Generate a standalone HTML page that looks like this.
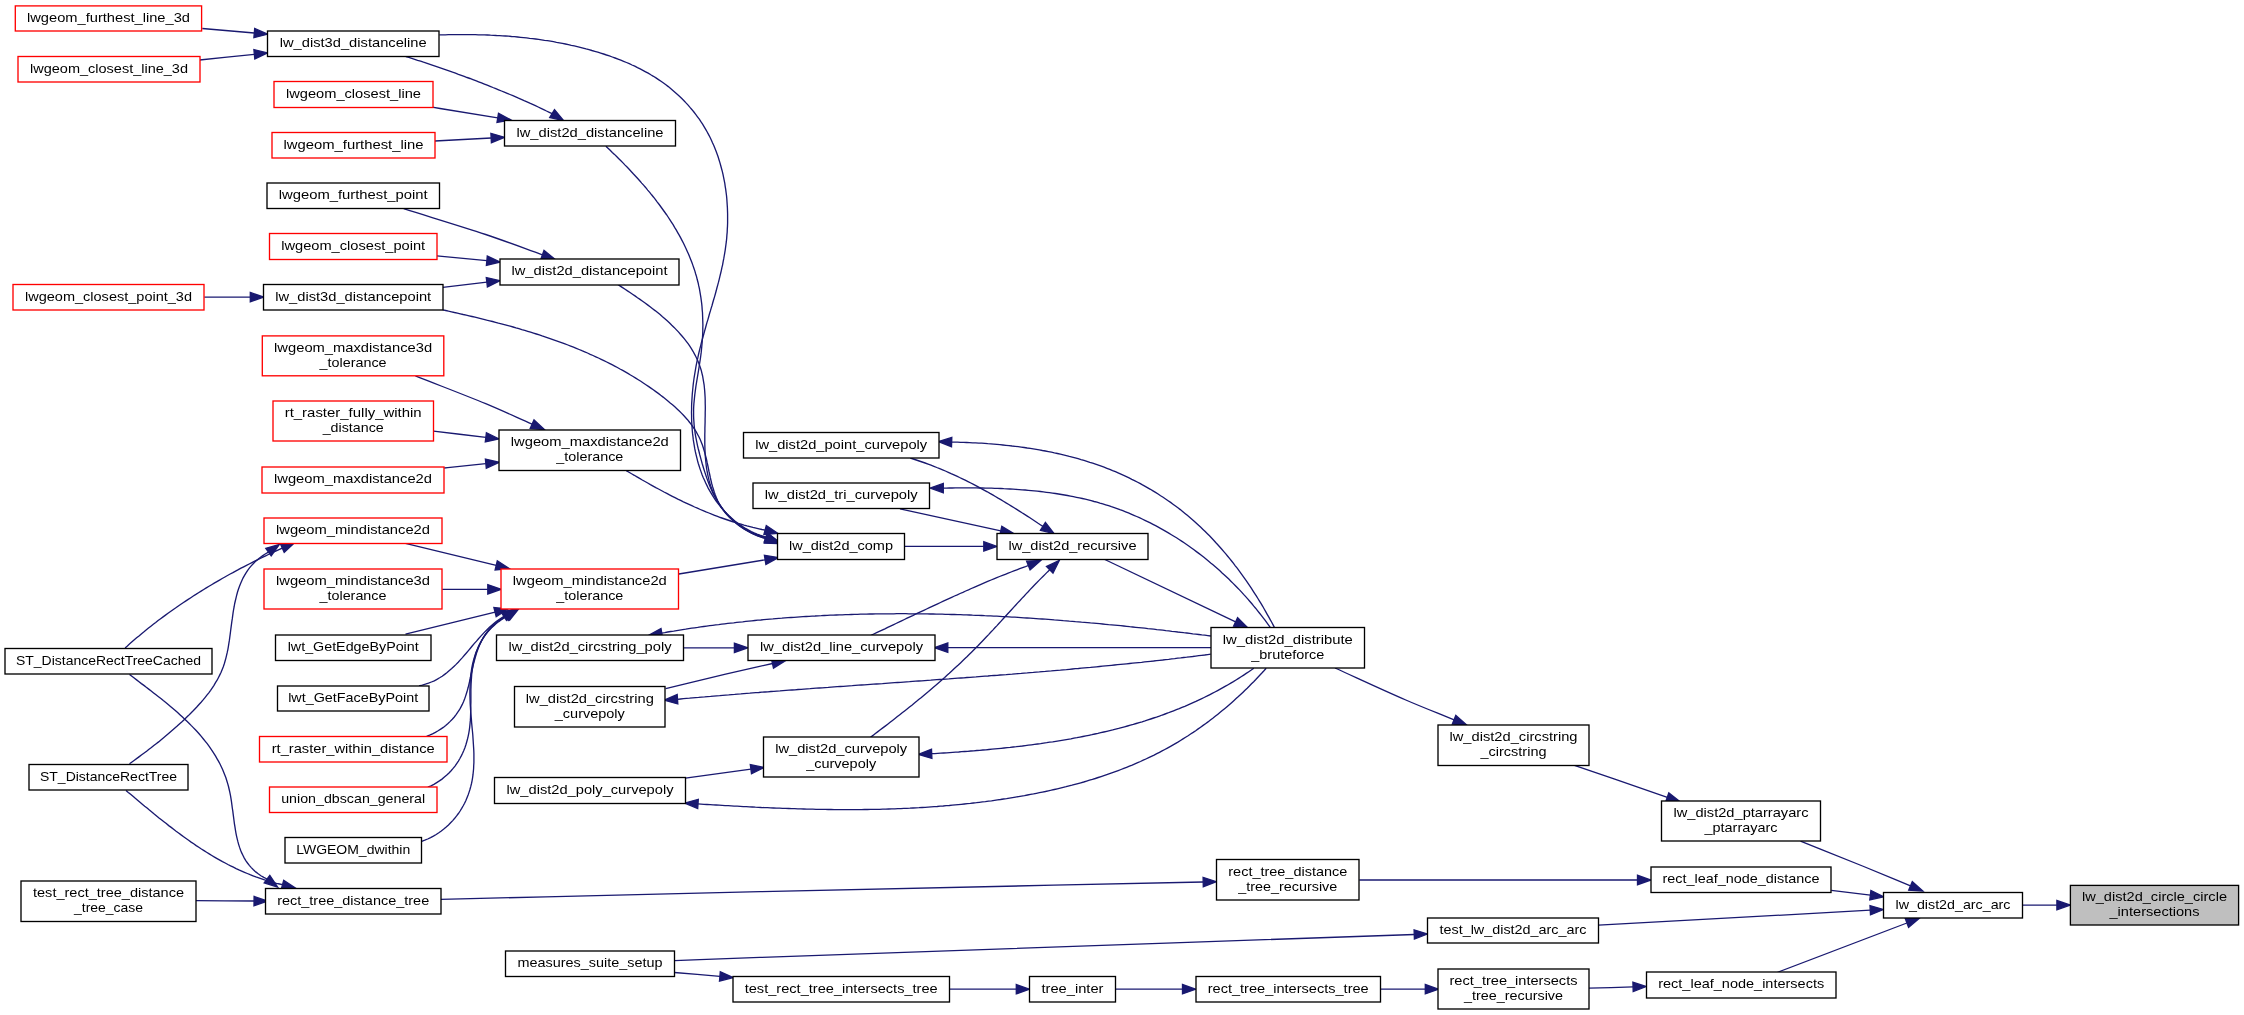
<!DOCTYPE html>
<html><head><meta charset="utf-8"><style>
html,body{margin:0;padding:0;background:#fff;}
svg{display:block;will-change:transform;}
text{font-family:"Liberation Sans",sans-serif;font-size:13.5px;fill:#000;}
.e path{fill:none;stroke:#191970;stroke-width:1.33;}
.e polygon{fill:#191970;stroke:#191970;stroke-width:1.33;}
rect{stroke-width:1.33;}
</style></head><body>
<svg width="2244" height="1015" viewBox="0 0 2244 1015">
<rect x="0" y="0" width="2244" height="1015" fill="#ffffff" stroke="none"/>

<g class="e">
<path d="M202.3,28.5C219.6,30 237,31.5 254.3,33"/><polygon points="267.6,34.2 253.9,37.7 254.7,28.4"/>
<path d="M199.6,60C217.8,58.1 236.1,56.2 254.3,54.3"/><polygon points="267.6,52.9 254.8,58.9 253.9,49.6"/>
<path d="M405.9,56.5L408.8,57.4L411.8,58.4L414.7,59.3L417.6,60.3L420.6,61.2L423.5,62.2L426.4,63.1L429.3,64.1L432.2,65.1L435.2,66.1L438.1,67.1L441,68.1L443.9,69.1L446.8,70.1L449.7,71.1L452.6,72.2L455.5,73.2L458.4,74.3L461.3,75.3L464.2,76.4L467.1,77.5L470,78.5L472.9,79.6L475.7,80.7L478.6,81.8L481.5,82.9L484.4,84.1L487.2,85.2L490.1,86.3L492.9,87.5L495.8,88.6L498.6,89.8L501.5,91L504.3,92.1L507.2,93.3L510,94.5L512.9,95.7L515.7,96.9L518.5,98.2L521.3,99.4L524.1,100.7L527,101.9L529.8,103.2L532.6,104.4L535.4,105.7L538.2,107L541,108.3L543.7,109.6L546.5,111L549.3,112.3L552.1,113.6"/><polygon points="563.5,120.5 549.7,117.6 554.5,109.6"/>
<path d="M439.4,34.9L442.4,34.8L445.4,34.8L448.4,34.7L451.4,34.7L454.4,34.6L457.4,34.6L460.4,34.6L463.4,34.6L466.4,34.6L469.4,34.6L472.4,34.7L475.4,34.7L478.4,34.8L481.4,34.8L484.4,34.9L487.4,35L490.5,35.2L493.5,35.3L496.5,35.5L499.5,35.6L502.5,35.8L505.5,36L508.5,36.2L511.5,36.5L514.5,36.7L517.6,37L520.6,37.3L523.6,37.6L526.6,37.9L529.6,38.3L532.6,38.6L535.6,39L538.6,39.4L541.5,39.8L544.5,40.3L547.5,40.7L550.5,41.2L553.5,41.7L556.5,42.3L559.4,42.8L562.4,43.4L565.4,44L568.4,44.6L571.3,45.3L574.3,45.9L577.2,46.6L580.2,47.3L583.1,48.1L586.1,48.9L589,49.6L591.9,50.5L594.8,51.3L597.8,52.2L600.7,53.1L603.6,54L606.5,55L609.4,55.9L612.3,57L615.1,58L618,59.1L620.8,60.2L623.6,61.3L626.5,62.5L629.3,63.7L632,65L634.8,66.2L637.5,67.6L640.2,68.9L642.9,70.3L645.6,71.8L648.2,73.2L650.8,74.8L653.4,76.3L656,77.9L658.5,79.6L661,81.3L663.5,83L665.9,84.8L668.3,86.6L670.6,88.5L672.9,90.4L675.2,92.4L677.5,94.4L679.7,96.5L681.8,98.5L684,100.7L686,102.9L688.1,105.1L690,107.4L692,109.7L693.9,112L695.7,114.4L697.5,116.8L699.3,119.2L700.9,121.7L702.6,124.2L704.2,126.8L705.7,129.4L707.2,132L708.6,134.6L710,137.3L711.3,140L712.5,142.8L713.8,145.5L714.9,148.3L716,151.1L717.1,154L718.1,156.8L719,159.7L719.9,162.6L720.7,165.5L721.5,168.5L722.3,171.4L723,174.4L723.6,177.4L724.2,180.4L724.8,183.4L725.2,186.4L725.7,189.4L726.1,192.5L726.5,195.5L726.8,198.6L727,201.6L727.2,204.7L727.4,207.7L727.5,210.8L727.6,213.8L727.6,216.9L727.6,219.9L727.6,223L727.5,226L727.3,229.1L727.2,232.1L726.9,235.1L726.7,238.1L726.4,241.2L726,244.1L725.6,247.1L725.2,250.1L724.7,253.1L724.2,256L723.7,258.9L723.1,261.9L722.6,264.8L721.9,267.7L721.3,270.6L720.6,273.5L719.9,276.4L719.2,279.3L718.5,282.2L717.7,285.1L716.9,288L716.2,290.8L715.4,293.7L714.6,296.6L713.7,299.5L712.9,302.3L712.1,305.2L711.2,308.1L710.4,310.9L709.5,313.8L708.7,316.7L707.9,319.6L707,322.4L706.2,325.3L705.4,328.2L704.6,331.1L703.8,334L703,336.9L702.2,339.8L701.4,342.7L700.7,345.6L699.9,348.6L699.2,351.5L698.5,354.5L697.9,357.4L697.2,360.4L696.6,363.4L696,366.4L695.5,369.4L695,372.4L694.5,375.4L694,378.5L693.6,381.5L693.2,384.6L692.9,387.7L692.6,390.7L692.3,393.8L692.1,396.9L691.9,400L691.7,403.1L691.6,406.2L691.6,409.3L691.5,412.4L691.6,415.5L691.6,418.6L691.7,421.6L691.9,424.7L692.1,427.8L692.3,430.8L692.6,433.9L693,436.9L693.3,439.9L693.8,442.9L694.3,445.9L694.8,448.9L695.4,451.9L696.1,454.8L696.8,457.7L697.5,460.6L698.3,463.5L699.2,466.3L700.1,469.1L701.1,471.9L702.1,474.7L703.2,477.4L704.4,480.1L705.6,482.8L706.9,485.4L708.2,488.1L709.6,490.6L711.1,493.1L712.6,495.6L714.2,498.1L715.8,500.5L717.5,502.9L719.3,505.2L721.2,507.5L723.1,509.7L725.1,511.9L727.1,514L729.3,516.1L731.5,518.1L733.7,520L736,521.9L738.4,523.7L740.9,525.4L743.4,527.1L746,528.7L748.6,530.1L751.3,531.6L754.1,532.9L757,534.1L759.9,535.2L762.8,536.2L765.9,537.2"/><polygon points="778.5,541.5 764.4,541.6 767.4,532.8"/>
<path d="M432.1,107.2C454,110.7 475.9,114.3 497.7,117.8"/><polygon points="510.9,119.9 497,122.4 498.5,113.2"/>
<path d="M434.8,141C453.6,140 472.4,139 491.2,138"/><polygon points="504.5,137.3 491.4,142.7 490.9,133.3"/>
<path d="M605.9,146.2L608,148.2L610.2,150.3L612.3,152.4L614.5,154.4L616.6,156.5L618.8,158.7L620.9,160.8L623,162.9L625.1,165.1L627.3,167.3L629.4,169.5L631.4,171.7L633.5,174L635.6,176.2L637.7,178.5L639.7,180.8L641.7,183.1L643.8,185.4L645.8,187.7L647.7,190.1L649.7,192.4L651.6,194.8L653.6,197.2L655.5,199.6L657.3,202.1L659.2,204.5L661,207L662.8,209.5L664.6,212L666.4,214.5L668.1,217L669.8,219.6L671.4,222.1L673.1,224.7L674.6,227.3L676.2,229.9L677.7,232.6L679.2,235.2L680.7,237.9L682.1,240.6L683.5,243.3L684.8,246L686.1,248.7L687.3,251.4L688.6,254.2L689.7,257L690.8,259.8L691.9,262.6L692.9,265.4L693.9,268.3L694.9,271.1L695.7,274L696.6,276.9L697.3,279.8L698.1,282.7L698.7,285.7L699.4,288.6L699.9,291.6L700.4,294.6L700.9,297.6L701.3,300.6L701.7,303.6L702,306.6L702.2,309.7L702.5,312.7L702.6,315.7L702.7,318.8L702.8,321.9L702.9,324.9L702.8,328L702.8,331L702.7,334.1L702.5,337.2L702.3,340.2L702.1,343.3L701.8,346.3L701.5,349.4L701.2,352.4L700.8,355.5L700.4,358.5L699.9,361.6L699.4,364.6L699,367.6L698.5,370.6L698,373.6L697.5,376.6L697,379.6L696.5,382.6L696,385.6L695.6,388.6L695.2,391.6L694.8,394.6L694.5,397.6L694.2,400.6L693.9,403.6L693.7,406.6L693.6,409.6L693.6,412.6L693.6,415.6L693.7,418.6L693.9,421.6L694.1,424.6L694.4,427.6L694.8,430.6L695.2,433.6L695.7,436.6L696.3,439.6L696.9,442.6L697.5,445.6L698.2,448.5L699,451.5L699.7,454.5L700.5,457.4L701.3,460.4L702.1,463.3L703,466.3L703.9,469.2L704.8,472.1L705.8,475L706.7,477.9L707.8,480.7L708.8,483.6L710,486.4L711.2,489.2L712.4,491.9L713.7,494.6L715.1,497.3L716.6,499.9L718.2,502.4L719.8,504.9L721.6,507.4L723.4,509.8L725.3,512.1L727.3,514.4L729.4,516.6L731.6,518.7L733.8,520.8L736.2,522.7L738.6,524.6L741,526.4L743.5,528L746.1,529.6L748.8,531.1L751.5,532.5L754.3,533.7L757.1,534.8L760,535.8L763,536.7L766,537.5"/><polygon points="778.5,542 764.4,541.9 767.5,533.1"/>
<path d="M403.7,208.7C431,217.3 460.9,226.2 485.7,234.5C506.4,241.5 523.5,248 542.4,254.8"/><polygon points="555,259.3 540.9,259.2 544,250.4"/>
<path d="M436.8,255.9C453.5,257.5 470.2,259.1 486.8,260.7"/><polygon points="500.1,262 486.4,265.4 487.3,256.1"/>
<path d="M204.3,297.1C219.6,297.1 234.9,297.1 250.3,297.1"/><polygon points="263.6,297.1 250.3,301.8 250.3,292.4"/>
<path d="M442.8,287.4C457.5,285.7 472.2,284 486.9,282.2"/><polygon points="500.1,280.7 487.4,286.9 486.3,277.6"/>
<path d="M442.8,309.9L445.7,310.5L448.6,311.2L451.5,311.8L454.5,312.5L457.4,313.1L460.3,313.8L463.2,314.5L466.2,315.1L469.1,315.8L472,316.5L475,317.2L477.9,317.9L480.8,318.6L483.8,319.3L486.7,320.1L489.7,320.8L492.6,321.5L495.5,322.3L498.4,323.1L501.4,323.8L504.3,324.6L507.2,325.4L510.2,326.2L513.1,327L516,327.9L518.9,328.7L521.8,329.6L524.8,330.4L527.7,331.3L530.6,332.2L533.5,333.1L536.4,334L539.3,334.9L542.1,335.9L545,336.8L547.9,337.8L550.8,338.8L553.6,339.8L556.5,340.8L559.3,341.8L562.2,342.9L565,343.9L567.9,345L570.7,346.1L573.5,347.2L576.3,348.3L579.1,349.5L581.9,350.7L584.7,351.8L587.5,353L590.2,354.3L593,355.5L595.8,356.8L598.5,358L601.2,359.3L603.9,360.6L606.7,362L609.4,363.3L612,364.7L614.7,366.1L617.4,367.5L620,369L622.7,370.4L625.3,371.9L627.9,373.4L630.5,375L633.1,376.5L635.7,378.1L638.3,379.7L640.8,381.3L643.3,383L645.9,384.7L648.4,386.4L650.9,388.1L653.3,389.8L655.8,391.6L658.3,393.4L660.7,395.3L663.1,397.1L665.5,399L667.9,400.9L670.2,402.9L672.5,404.8L674.8,406.8L677.1,408.9L679.3,411L681.4,413.1L683.5,415.3L685.5,417.5L687.5,419.7L689.3,422L691.2,424.4L692.9,426.8L694.5,429.2L696.1,431.7L697.5,434.2L698.9,436.8L700.2,439.5L701.3,442.2L702.4,445L703.3,447.8L704.2,450.7L705,453.6L705.8,456.6L706.5,459.5L707.1,462.5L707.8,465.5L708.4,468.5L709,471.5L709.7,474.5L710.3,477.5L711,480.5L711.7,483.5L712.5,486.4L713.4,489.3L714.3,492.2L715.3,495L716.4,497.8L717.6,500.5L718.9,503.1L720.4,505.7L722,508.2L723.7,510.6L725.5,513L727.5,515.3L729.6,517.5L731.7,519.6L734,521.6L736.3,523.6L738.8,525.4L741.3,527.2L743.8,528.9L746.5,530.4L749.2,531.9L751.9,533.3L754.7,534.6L757.5,535.8L760.3,536.9L763.2,537.9L766.1,538.7"/><polygon points="778.5,543.5 764.4,543.1 767.7,534.4"/>
<path d="M617.9,284.5L620.3,286.1L622.6,287.6L625.1,289.2L627.5,290.9L630,292.5L632.5,294.2L635,295.9L637.5,297.7L640,299.4L642.6,301.2L645.1,303L647.6,304.9L650.1,306.8L652.6,308.7L655.1,310.6L657.6,312.6L660.1,314.6L662.5,316.7L664.9,318.7L667.2,320.8L669.6,323L671.8,325.2L674.1,327.4L676.2,329.6L678.4,331.9L680.4,334.2L682.4,336.5L684.4,338.9L686.3,341.3L688.1,343.7L689.8,346.2L691.4,348.7L693,351.3L694.4,353.9L695.8,356.5L697.1,359.2L698.3,361.9L699.3,364.6L700.3,367.4L701.2,370.2L701.9,373.1L702.6,376L703.1,378.9L703.6,381.9L704.1,384.8L704.4,387.8L704.7,390.9L704.9,393.9L705.1,397L705.2,400.1L705.2,403.2L705.3,406.3L705.3,409.4L705.2,412.6L705.2,415.7L705.1,418.9L705.1,422L705,425.2L704.9,428.3L704.9,431.5L704.8,434.6L704.8,437.8L704.8,440.9L704.8,444L704.9,447.2L705,450.3L705.1,453.3L705.3,456.4L705.6,459.5L705.9,462.5L706.2,465.5L706.6,468.5L707.1,471.5L707.7,474.4L708.3,477.3L709,480.2L709.8,483.1L710.7,485.9L711.7,488.7L712.7,491.4L713.9,494.1L715.2,496.8L716.5,499.4L718,502L719.6,504.6L721.3,507.1L723.2,509.6L725.1,512L727.1,514.3L729.3,516.6L731.5,518.8L733.8,520.9L736.2,522.9L738.6,524.9L741.1,526.7L743.7,528.5L746.4,530.1L749.1,531.7L751.8,533.1L754.6,534.4L757.4,535.6L760.3,536.6L763.1,537.5L766,538.3"/><polygon points="778.5,543 764.4,542.7 767.7,533.9"/>
<path d="M415.4,375.9C438.8,385.2 464.8,395 485.7,403.7C502.8,410.9 516.6,417.3 532.1,424.1"/><polygon points="544.3,429.5 530.2,428.4 534,419.9"/>
<path d="M433.5,431.2C451,433.2 468.4,435.3 485.9,437.3"/><polygon points="499.1,438.9 485.3,442 486.4,432.7"/>
<path d="M444.2,468C458.1,466.6 472,465.1 485.8,463.7"/><polygon points="499.1,462.3 486.3,468.3 485.4,459"/>
<path d="M626.3,470.6L629,472.2L631.6,473.8L634.3,475.3L637,476.9L639.6,478.4L642.3,480L645,481.5L647.7,483L650.4,484.6L653.1,486.1L655.8,487.6L658.5,489L661.3,490.5L664,492L666.8,493.4L669.5,494.9L672.3,496.3L675,497.7L677.8,499.1L680.6,500.4L683.4,501.8L686.2,503.1L689,504.4L691.8,505.7L694.6,507L697.4,508.2L700.3,509.5L703.1,510.7L706,511.9L708.9,513L711.7,514.2L714.6,515.3L717.5,516.4L720.4,517.5L723.3,518.5L726.2,519.5L729.2,520.5L732.1,521.5L735,522.4L738,523.3L741,524.2L744,525.1L746.9,525.9L749.9,526.6L752.9,527.4L756,528.1L759,528.8L762,529.5L765.1,530.1"/><polygon points="778,533.4 763.9,534.6 766.3,525.5"/>
<path d="M405.3,543.4C435.6,550.7 465.9,558 496.2,565.4"/><polygon points="509.2,568.5 495.1,569.9 497.3,560.8"/>
<path d="M442.2,589.3C457.4,589.3 472.6,589.3 487.8,589.3"/><polygon points="501.1,589.3 487.8,594 487.8,584.6"/>
<path d="M678.8,574C707.6,569.3 736.4,564.5 765.1,559.8"/><polygon points="778.3,557.6 765.9,564.4 764.4,555.2"/>
<path d="M405.5,634.1C435.4,626.8 465.2,619.5 495.1,612.2"/><polygon points="508,609 496.2,616.7 493.9,607.6"/>
<path d="M419,685.8L422.3,685.1L425.4,684.2L428.5,683.2L431.4,682L434.3,680.8L437,679.3L439.6,677.8L442.2,676.2L444.7,674.4L447.1,672.6L449.4,670.6L451.7,668.6L453.9,666.5L456.1,664.4L458.2,662.2L460.3,659.9L462.4,657.6L464.4,655.3L466.4,653L468.4,650.6L470.4,648.2L472.4,645.8L474.4,643.4L476.5,641.1L478.5,638.7L480.6,636.4L482.7,634.1L484.8,631.9L487,629.7L489.2,627.5L491.5,625.5L493.8,623.5L496.2,621.6L498.7,619.7L501.3,618L503.9,616.4"/><polygon points="515,609 506.5,620.3 501.3,612.5"/>
<path d="M426.6,736.3L429.6,735.1L432.5,733.8L435.4,732.4L438.1,730.8L440.7,729.1L443.3,727.4L445.7,725.5L448,723.5L450.2,721.4L452.3,719.2L454.3,717L456.1,714.6L457.8,712.2L459.5,709.7L460.9,707.1L462.3,704.4L463.5,701.7L464.6,698.9L465.6,696.1L466.5,693.2L467.4,690.2L468.2,687.3L468.9,684.3L469.6,681.3L470.3,678.2L470.9,675.2L471.6,672.2L472.3,669.2L473,666.1L473.7,663.1L474.5,660.2L475.3,657.2L476.2,654.3L477.1,651.4L478.2,648.6L479.3,645.8L480.5,643.1L481.8,640.4L483.3,637.8L484.9,635.2L486.6,632.8L488.4,630.4L490.4,628.1L492.5,625.9L494.8,623.8L497.2,621.8L499.8,620L502.6,618.2L505.5,616.5"/><polygon points="516.5,609 508.1,620.4 502.9,612.7"/>
<path d="M427.9,787.2L431,785.8L433.9,784.3L436.7,782.6L439.4,780.9L442,779.1L444.4,777.1L446.8,775.1L449,773L451.1,770.7L453.1,768.4L455,766.1L456.7,763.6L458.4,761.1L459.9,758.5L461.3,755.9L462.6,753.2L463.8,750.5L464.9,747.7L465.9,744.8L466.7,742L467.5,739L468.2,736.1L468.8,733.1L469.3,730.1L469.7,727.1L470,724L470.3,720.9L470.5,717.9L470.6,714.8L470.7,711.7L470.8,708.5L470.8,705.4L470.9,702.3L470.9,699.2L470.9,696L470.9,692.9L470.9,689.8L471,686.7L471.1,683.6L471.3,680.5L471.5,677.4L471.7,674.3L472.1,671.3L472.5,668.2L473,665.2L473.6,662.3L474.3,659.3L475,656.4L475.9,653.5L476.9,650.7L478,648L479.2,645.2L480.5,642.6L481.9,640L483.4,637.4L485.1,634.9L486.9,632.5L488.8,630.2L490.9,627.9L493.1,625.8L495.4,623.7L497.9,621.7L500.5,619.8L503.3,617.9L506.3,616.2"/><polygon points="517.5,609 508.8,620.2 503.8,612.3"/>
<path d="M421.7,841.4L424.8,840.2L427.7,839L430.6,837.6L433.4,836.1L436.2,834.5L438.8,832.8L441.3,831L443.8,829.1L446.2,827.1L448.5,825L450.6,822.8L452.7,820.6L454.7,818.3L456.6,815.9L458.4,813.5L460.1,811L461.7,808.4L463.2,805.8L464.6,803.2L465.9,800.5L467,797.7L468.1,794.9L469.1,792.1L470,789.3L470.8,786.4L471.5,783.5L472.1,780.6L472.6,777.6L473,774.7L473.3,771.7L473.6,768.7L473.7,765.7L473.9,762.7L473.9,759.6L473.9,756.6L473.9,753.5L473.8,750.5L473.6,747.4L473.4,744.3L473.2,741.2L473,738.1L472.8,735L472.5,731.8L472.2,728.7L471.9,725.6L471.6,722.5L471.4,719.3L471.1,716.2L470.8,713.1L470.6,709.9L470.4,706.8L470.2,703.7L470.1,700.5L470,697.4L469.9,694.3L469.9,691.2L470,688.1L470.1,685L470.2,681.9L470.4,678.8L470.7,675.8L471.1,672.8L471.5,669.8L472,666.9L472.6,663.9L473.3,661.1L474.1,658.2L475,655.4L475.9,652.6L477,649.9L478.1,647.2L479.4,644.6L480.8,642L482.3,639.5L483.9,637L485.6,634.6L487.4,632.3L489.4,630L491.5,627.8L493.8,625.7L496.2,623.6L498.7,621.6L501.4,619.7L504.2,617.9L507.2,616.1"/><polygon points="518.5,609 509.7,620.1 504.7,612.2"/>
<path d="M125.1,647.9L127.4,645.9L129.7,643.8L132,641.8L134.3,639.8L136.6,637.8L139,635.9L141.3,633.9L143.7,632L146.1,630L148.5,628.1L150.9,626.2L153.3,624.3L155.7,622.5L158.1,620.6L160.6,618.7L163.1,616.9L165.5,615.1L168,613.3L170.5,611.5L173,609.7L175.5,608L178,606.2L180.5,604.5L183.1,602.8L185.6,601.1L188.2,599.4L190.8,597.7L193.3,596L195.9,594.4L198.5,592.7L201.1,591.1L203.7,589.5L206.3,587.9L209,586.3L211.6,584.7L214.2,583.2L216.9,581.6L219.5,580.1L222.2,578.5L224.9,577L227.5,575.5L230.2,574L232.9,572.6L235.6,571.1L238.3,569.7L241,568.2L243.7,566.8L246.5,565.4L249.2,564L251.9,562.6L254.7,561.2L257.4,559.9L260.2,558.5L262.9,557.2L265.7,555.8L268.4,554.5L271.2,553.2L274,551.9L276.8,550.6L279.5,549.4L282.3,548.1"/><polygon points="294.5,542.7 284.2,552.4 280.4,543.9"/>
<path d="M129.5,763.8L132,762L134.4,760.2L136.9,758.4L139.3,756.6L141.7,754.8L144.2,753L146.6,751.2L149,749.3L151.4,747.5L153.8,745.6L156.2,743.7L158.6,741.9L160.9,739.9L163.3,738L165.6,736.1L168,734.1L170.3,732.1L172.6,730.1L174.9,728.1L177.2,726.1L179.4,724L181.7,722L183.9,719.9L186.1,717.8L188.4,715.6L190.5,713.5L192.7,711.3L194.9,709L197,706.8L199,704.5L201.1,702.2L203.1,699.9L205,697.6L206.9,695.2L208.8,692.8L210.6,690.3L212.3,687.8L214,685.3L215.5,682.7L217.1,680.2L218.5,677.5L219.8,674.9L221.1,672.2L222.2,669.4L223.3,666.7L224.3,663.8L225.1,661L225.9,658.1L226.6,655.2L227.3,652.2L227.9,649.3L228.4,646.3L228.9,643.2L229.4,640.2L229.8,637.1L230.2,634.1L230.6,631L231,627.9L231.4,624.8L231.8,621.8L232.3,618.7L232.7,615.6L233.1,612.6L233.6,609.5L234.2,606.5L234.7,603.5L235.4,600.5L236.1,597.6L236.8,594.7L237.6,591.8L238.5,589L239.5,586.2L240.6,583.5L241.8,580.8L243,578.1L244.4,575.6L245.9,573.1L247.5,570.6L249.3,568.2L251.2,565.9L253.2,563.7L255.4,561.5L257.7,559.5L260.2,557.5L262.8,555.6L265.6,553.8L268.5,552.1"/><polygon points="279.4,544.4 271.2,555.9 265.8,548.3"/>
<path d="M129.5,674.5L131.9,676.3L134.2,678.1L136.6,679.9L139,681.7L141.4,683.6L143.9,685.4L146.3,687.3L148.7,689.1L151.2,691L153.6,692.9L156,694.8L158.5,696.7L160.9,698.6L163.3,700.6L165.8,702.5L168.2,704.5L170.5,706.5L172.9,708.5L175.3,710.5L177.6,712.6L179.9,714.7L182.2,716.8L184.5,718.9L186.7,721L189,723.2L191.1,725.4L193.3,727.6L195.4,729.8L197.5,732L199.5,734.3L201.5,736.6L203.4,739L205.3,741.3L207.2,743.7L209,746.2L210.7,748.6L212.4,751.1L214,753.6L215.6,756.2L217.1,758.8L218.6,761.4L220,764L221.3,766.7L222.6,769.4L223.7,772.2L224.8,775L225.9,777.8L226.8,780.7L227.7,783.6L228.5,786.5L229.2,789.5L229.9,792.6L230.5,795.6L231,798.7L231.5,801.8L231.9,804.9L232.3,808L232.8,811.1L233.2,814.3L233.6,817.4L234,820.5L234.4,823.6L234.9,826.7L235.4,829.8L235.9,832.8L236.5,835.8L237.2,838.8L237.9,841.7L238.7,844.6L239.6,847.4L240.6,850.2L241.7,852.9L243,855.5L244.3,858.1L245.8,860.6L247.5,863L249.3,865.4L251.3,867.6L253.4,869.8L255.7,871.9L258.2,873.8L260.9,875.7L263.8,877.4L267,879"/><polygon points="277.6,887.1 264.2,882.8 269.8,875.3"/>
<path d="M126,790.4L128.3,792.4L130.6,794.3L133,796.3L135.3,798.3L137.6,800.2L140,802.2L142.3,804.2L144.7,806.2L147.1,808.1L149.4,810.1L151.8,812L154.2,814L156.6,815.9L159,817.9L161.4,819.8L163.9,821.7L166.3,823.6L168.7,825.6L171.2,827.4L173.6,829.3L176.1,831.2L178.6,833L181.1,834.9L183.6,836.7L186.1,838.5L188.6,840.3L191.1,842.1L193.7,843.8L196.2,845.6L198.8,847.3L201.4,849L204,850.6L206.6,852.3L209.2,853.9L211.8,855.5L214.5,857.1L217.1,858.6L219.8,860.1L222.5,861.6L225.2,863L227.9,864.5L230.6,865.9L233.4,867.2L236.1,868.6L238.9,869.9L241.7,871.1L244.5,872.3L247.3,873.5L250.1,874.7L253,875.8L255.9,876.9L258.8,877.9L261.7,878.9L264.6,879.9L267.5,880.8L270.5,881.7L273.5,882.5L276.4,883.3L279.5,884L282.5,884.7"/><polygon points="295.4,888 281.3,889.2 283.7,880.2"/>
<path d="M195.7,900.7C215.2,900.8 234.6,900.9 254.1,901"/><polygon points="267.4,901.1 254,905.7 254.1,896.4"/>
<path d="M440.6,899.4C547.1,896.8 644.8,894.3 760,891.6C895.7,888.5 1055.4,885.2 1203.2,882"/><polygon points="1216.5,881.7 1203.3,886.7 1203.1,877.3"/>
<path d="M1359.3,880C1452,880 1544.7,880 1637.5,880"/><polygon points="1650.8,880 1637.5,884.7 1637.5,875.3"/>
<path d="M1831.3,890.4C1844.3,892 1857.3,893.6 1870.4,895.2"/><polygon points="1883.6,896.8 1869.8,899.8 1870.9,890.5"/>
<path d="M904.7,546.4C931.1,546.4 957.4,546.4 983.8,546.4"/><polygon points="997.1,546.4 983.8,551.1 983.8,541.7"/>
<path d="M910.3,458.1L913.3,459L916.3,460L919.2,461L922.2,462L925.1,463L928.1,464.1L931,465.2L933.9,466.3L936.8,467.5L939.7,468.6L942.6,469.8L945.4,471L948.3,472.3L951.1,473.6L954,474.8L956.8,476.1L959.6,477.5L962.4,478.8L965.2,480.2L968,481.6L970.8,483L973.5,484.4L976.3,485.9L979.1,487.4L981.8,488.8L984.5,490.3L987.3,491.8L990,493.4L992.7,494.9L995.4,496.5L998.1,498.1L1000.8,499.6L1003.4,501.2L1006.1,502.9L1008.8,504.5L1011.4,506.1L1014.1,507.8L1016.7,509.4L1019.4,511.1L1022,512.8L1024.6,514.4L1027.3,516.1L1029.9,517.8L1032.5,519.5L1035.1,521.2L1037.7,523L1040.3,524.7L1042.9,526.4"/><polygon points="1054.1,533.6 1040.4,530.3 1045.4,522.5"/>
<path d="M900,508.8C933.6,516.1 967.2,523.4 1000.8,530.8"/><polygon points="1013.8,533.6 999.8,535.3 1001.8,526.2"/>
<path d="M871,635.3L873.8,634L876.6,632.7L879.3,631.4L882.1,630.1L884.9,628.8L887.7,627.4L890.5,626.1L893.2,624.8L896,623.5L898.8,622.2L901.6,620.8L904.4,619.5L907.1,618.2L909.9,616.9L912.7,615.6L915.5,614.2L918.2,612.9L921,611.6L923.8,610.3L926.6,609L929.4,607.7L932.2,606.4L934.9,605.1L937.7,603.8L940.5,602.5L943.3,601.2L946.1,599.9L948.9,598.6L951.7,597.3L954.5,596L957.3,594.8L960.1,593.5L962.9,592.3L965.7,591L968.5,589.8L971.3,588.5L974.1,587.3L976.9,586.1L979.8,584.8L982.6,583.6L985.4,582.4L988.3,581.2L991.1,580L993.9,578.9L996.8,577.7L999.6,576.5L1002.5,575.4L1005.3,574.3L1008.2,573.1L1011.1,572L1013.9,570.9L1016.8,569.8L1019.7,568.7L1022.6,567.6L1025.5,566.6L1028.4,565.5"/><polygon points="1040.7,560.5 1030.1,569.9 1026.6,561.2"/>
<path d="M870.5,737.2L873,735.4L875.4,733.5L877.9,731.6L880.3,729.8L882.8,727.9L885.2,726.1L887.7,724.2L890.1,722.3L892.5,720.4L895,718.5L897.4,716.6L899.8,714.7L902.2,712.8L904.6,710.9L907.1,709L909.5,707.1L911.9,705.2L914.2,703.2L916.6,701.3L919,699.3L921.4,697.4L923.7,695.4L926.1,693.4L928.5,691.5L930.8,689.5L933.1,687.5L935.5,685.5L937.8,683.5L940.1,681.5L942.4,679.4L944.7,677.4L947,675.3L949.3,673.3L951.5,671.2L953.8,669.1L956,667.1L958.3,665L960.5,662.9L962.7,660.8L965,658.6L967.2,656.5L969.4,654.3L971.5,652.2L973.7,650L975.9,647.8L978,645.7L980.1,643.5L982.3,641.2L984.4,639L986.5,636.8L988.6,634.6L990.7,632.3L992.8,630.1L994.9,627.8L997,625.6L999.1,623.3L1001.1,621.1L1003.2,618.8L1005.3,616.5L1007.3,614.2L1009.4,612L1011.5,609.7L1013.6,607.4L1015.6,605.2L1017.7,602.9L1019.8,600.7L1021.9,598.4L1024,596.2L1026.1,593.9L1028.2,591.7L1030.3,589.4L1032.4,587.2L1034.5,585L1036.7,582.8L1038.8,580.6L1041,578.4L1043.2,576.2L1045.3,574.1L1047.5,571.9L1049.7,569.8"/><polygon points="1059.3,560.5 1053,573.1 1046.5,566.4"/>
<path d="M1104.8,559.5C1148.4,580.3 1192,601.1 1235.6,621.9"/><polygon points="1247.6,627.6 1233.6,626.1 1237.6,617.6"/>
<path d="M1274.5,627.6L1273.1,624.9L1271.7,622.2L1270.2,619.6L1268.7,616.9L1267.2,614.3L1265.7,611.6L1264.2,609L1262.7,606.3L1261.1,603.7L1259.5,601.1L1257.9,598.5L1256.3,595.9L1254.6,593.3L1253,590.8L1251.3,588.2L1249.6,585.7L1247.9,583.1L1246.2,580.6L1244.4,578.1L1242.6,575.6L1240.8,573.1L1239,570.7L1237.2,568.2L1235.3,565.8L1233.5,563.4L1231.6,561L1229.7,558.6L1227.7,556.2L1225.8,553.9L1223.8,551.6L1221.8,549.3L1219.8,547L1217.8,544.7L1215.7,542.5L1213.7,540.2L1211.6,538L1209.5,535.8L1207.4,533.7L1205.2,531.5L1203,529.4L1200.8,527.3L1198.6,525.3L1196.4,523.2L1194.2,521.2L1191.9,519.2L1189.6,517.2L1187.3,515.3L1185,513.4L1182.6,511.5L1180.3,509.6L1177.9,507.8L1175.5,506L1173,504.2L1170.6,502.4L1168.1,500.7L1165.6,499L1163.1,497.3L1160.6,495.7L1158.1,494L1155.5,492.4L1153,490.9L1150.4,489.3L1147.8,487.8L1145.2,486.3L1142.5,484.9L1139.9,483.4L1137.2,482L1134.5,480.6L1131.8,479.3L1129.1,477.9L1126.4,476.6L1123.7,475.4L1120.9,474.1L1118.1,472.9L1115.4,471.7L1112.6,470.6L1109.8,469.4L1106.9,468.3L1104.1,467.2L1101.3,466.2L1098.4,465.2L1095.5,464.2L1092.7,463.2L1089.8,462.3L1086.9,461.3L1084,460.4L1081,459.6L1078.1,458.7L1075.2,457.9L1072.2,457.1L1069.3,456.4L1066.3,455.6L1063.3,454.9L1060.3,454.2L1057.4,453.5L1054.4,452.9L1051.4,452.2L1048.4,451.6L1045.4,451L1042.4,450.5L1039.3,449.9L1036.3,449.4L1033.3,448.9L1030.3,448.4L1027.2,448L1024.2,447.5L1021.2,447.1L1018.1,446.7L1015.1,446.3L1012.1,446L1009,445.6L1006,445.3L1002.9,445L999.9,444.7L996.9,444.4L993.8,444.1L990.8,443.9L987.8,443.7L984.7,443.4L981.7,443.2L978.7,443.1L975.6,442.9L972.6,442.8L969.6,442.6L966.6,442.5L963.6,442.4L960.6,442.3L957.6,442.2L954.6,442.1L951.6,442.1"/><polygon points="938.3,441.6 951.8,437.4 951.5,446.7"/>
<path d="M1270.4,627.6L1268.6,625.1L1266.8,622.7L1265,620.2L1263.2,617.8L1261.3,615.4L1259.4,613L1257.5,610.6L1255.6,608.2L1253.6,605.9L1251.7,603.5L1249.7,601.2L1247.7,598.9L1245.7,596.6L1243.6,594.4L1241.6,592.1L1239.5,589.9L1237.4,587.7L1235.2,585.5L1233.1,583.4L1230.9,581.2L1228.8,579.1L1226.6,577L1224.4,574.9L1222.1,572.9L1219.9,570.8L1217.6,568.8L1215.3,566.8L1213,564.8L1210.7,562.9L1208.4,560.9L1206,559L1203.6,557.1L1201.3,555.2L1198.8,553.4L1196.4,551.6L1194,549.8L1191.5,548L1189.1,546.2L1186.6,544.5L1184.1,542.8L1181.6,541.1L1179.1,539.5L1176.5,537.8L1173.9,536.2L1171.4,534.7L1168.8,533.1L1166.2,531.6L1163.6,530.1L1160.9,528.6L1158.3,527.1L1155.6,525.7L1153,524.3L1150.3,522.9L1147.6,521.6L1144.9,520.3L1142.2,519L1139.4,517.7L1136.7,516.5L1133.9,515.3L1131.1,514.1L1128.4,512.9L1125.6,511.8L1122.8,510.7L1119.9,509.7L1117.1,508.6L1114.3,507.6L1111.4,506.7L1108.6,505.7L1105.7,504.8L1102.8,503.9L1099.9,503.1L1097,502.2L1094.1,501.5L1091.2,500.7L1088.2,499.9L1085.3,499.2L1082.3,498.5L1079.4,497.9L1076.4,497.3L1073.4,496.7L1070.5,496.1L1067.5,495.5L1064.5,495L1061.5,494.5L1058.5,494L1055.5,493.5L1052.5,493.1L1049.4,492.7L1046.4,492.3L1043.4,491.9L1040.4,491.5L1037.3,491.2L1034.3,490.9L1031.2,490.6L1028.2,490.3L1025.2,490L1022.1,489.8L1019.1,489.6L1016,489.4L1013,489.2L1009.9,489L1006.9,488.8L1003.8,488.7L1000.8,488.5L997.7,488.4L994.7,488.3L991.6,488.2L988.6,488.1L985.5,488.1L982.5,488L979.5,488L976.4,487.9L973.4,487.9L970.4,487.9L967.3,487.9L964.3,487.9L961.3,487.9L958.3,487.9L955.3,487.9L952.3,488L949.3,488L946.3,488.1L943.3,488.1"/><polygon points="930,488.1 943.3,483.4 943.3,492.8"/>
<path d="M1210.8,636L1207.8,635.6L1204.8,635.2L1201.8,634.9L1198.8,634.5L1195.8,634.1L1192.8,633.8L1189.8,633.4L1186.8,633L1183.8,632.7L1180.8,632.3L1177.8,632L1174.8,631.6L1171.8,631.3L1168.8,630.9L1165.8,630.6L1162.8,630.2L1159.8,629.9L1156.8,629.6L1153.8,629.2L1150.8,628.9L1147.8,628.6L1144.8,628.2L1141.8,627.9L1138.7,627.6L1135.7,627.3L1132.7,627L1129.7,626.7L1126.7,626.3L1123.7,626L1120.7,625.7L1117.7,625.4L1114.6,625.1L1111.6,624.8L1108.6,624.6L1105.6,624.3L1102.6,624L1099.6,623.7L1096.5,623.4L1093.5,623.1L1090.5,622.9L1087.5,622.6L1084.5,622.3L1081.5,622.1L1078.4,621.8L1075.4,621.6L1072.4,621.3L1069.4,621.1L1066.3,620.8L1063.3,620.6L1060.3,620.3L1057.3,620.1L1054.3,619.9L1051.2,619.6L1048.2,619.4L1045.2,619.2L1042.2,619L1039.1,618.8L1036.1,618.6L1033.1,618.4L1030.1,618.2L1027,618L1024,617.8L1021,617.6L1018,617.4L1014.9,617.2L1011.9,617.1L1008.9,616.9L1005.8,616.7L1002.8,616.6L999.8,616.4L996.8,616.2L993.7,616.1L990.7,615.9L987.7,615.8L984.7,615.7L981.6,615.5L978.6,615.4L975.6,615.3L972.5,615.2L969.5,615L966.5,614.9L963.5,614.8L960.4,614.7L957.4,614.6L954.4,614.5L951.3,614.5L948.3,614.4L945.3,614.3L942.2,614.2L939.2,614.2L936.2,614.1L933.2,614L930.1,614L927.1,613.9L924.1,613.9L921,613.9L918,613.8L915,613.8L912,613.8L908.9,613.8L905.9,613.7L902.9,613.7L899.8,613.7L896.8,613.7L893.8,613.8L890.8,613.8L887.7,613.8L884.7,613.8L881.7,613.8L878.6,613.9L875.6,613.9L872.6,614L869.6,614L866.5,614.1L863.5,614.1L860.5,614.2L857.5,614.3L854.4,614.4L851.4,614.5L848.4,614.6L845.4,614.7L842.3,614.8L839.3,614.9L836.3,615L833.3,615.1L830.2,615.2L827.2,615.4L824.2,615.5L821.2,615.7L818.1,615.8L815.1,616L812.1,616.1L809.1,616.3L806.1,616.5L803,616.7L800,616.9L797,617.1L794,617.3L791,617.5L788,617.7L784.9,617.9L781.9,618.2L778.9,618.4L775.9,618.6L772.9,618.9L769.9,619.1L766.8,619.4L763.8,619.7L760.8,620L757.8,620.2L754.8,620.5L751.8,620.8L748.8,621.1L745.8,621.4L742.7,621.8L739.7,622.1L736.7,622.4L733.7,622.8L730.7,623.1L727.7,623.4L724.7,623.8L721.7,624.2L718.7,624.6L715.7,624.9L712.7,625.3L709.7,625.7L706.7,626.1L703.7,626.5L700.7,626.9L697.7,627.4L694.7,627.8L691.7,628.2L688.7,628.7L685.7,629.2L682.7,629.6L679.7,630.1L676.7,630.6L673.7,631.1L670.7,631.5L667.7,632L664.7,632.6L661.7,633.1"/><polygon points="648.6,635.3 661,628.5 662.5,637.7"/>
<path d="M1211.2,647.7C1123.4,647.7 1035.6,647.7 947.8,647.7"/><polygon points="934.5,647.7 947.8,643 947.8,652.4"/>
<path d="M1210.7,654.2L1207.7,654.6L1204.7,655L1201.7,655.3L1198.7,655.7L1195.7,656.1L1192.7,656.5L1189.7,656.8L1186.7,657.2L1183.7,657.5L1180.7,657.9L1177.7,658.2L1174.7,658.6L1171.7,658.9L1168.7,659.3L1165.7,659.6L1162.7,660L1159.6,660.3L1156.6,660.6L1153.6,661L1150.6,661.3L1147.6,661.6L1144.6,661.9L1141.6,662.3L1138.6,662.6L1135.6,662.9L1132.6,663.2L1129.6,663.5L1126.6,663.8L1123.6,664.1L1120.6,664.4L1117.6,664.7L1114.5,665L1111.5,665.3L1108.5,665.6L1105.5,665.9L1102.5,666.2L1099.5,666.5L1096.5,666.8L1093.5,667.1L1090.5,667.4L1087.5,667.6L1084.5,667.9L1081.4,668.2L1078.4,668.5L1075.4,668.7L1072.4,669L1069.4,669.3L1066.4,669.6L1063.4,669.8L1060.4,670.1L1057.4,670.3L1054.3,670.6L1051.3,670.9L1048.3,671.1L1045.3,671.4L1042.3,671.6L1039.3,671.9L1036.3,672.1L1033.3,672.4L1030.2,672.6L1027.2,672.9L1024.2,673.1L1021.2,673.4L1018.2,673.6L1015.2,673.8L1012.2,674.1L1009.1,674.3L1006.1,674.6L1003.1,674.8L1000.1,675L997.1,675.3L994.1,675.5L991.1,675.7L988,676L985,676.2L982,676.4L979,676.6L976,676.9L973,677.1L970,677.3L966.9,677.5L963.9,677.8L960.9,678L957.9,678.2L954.9,678.4L951.9,678.6L948.8,678.9L945.8,679.1L942.8,679.3L939.8,679.5L936.8,679.7L933.8,679.9L930.8,680.2L927.7,680.4L924.7,680.6L921.7,680.8L918.7,681L915.7,681.2L912.7,681.4L909.6,681.7L906.6,681.9L903.6,682.1L900.6,682.3L897.6,682.5L894.6,682.7L891.5,682.9L888.5,683.1L885.5,683.3L882.5,683.6L879.5,683.8L876.5,684L873.4,684.2L870.4,684.4L867.4,684.6L864.4,684.8L861.4,685L858.4,685.2L855.3,685.4L852.3,685.7L849.3,685.9L846.3,686.1L843.3,686.3L840.3,686.5L837.2,686.7L834.2,686.9L831.2,687.1L828.2,687.4L825.2,687.6L822.2,687.8L819.2,688L816.1,688.2L813.1,688.4L810.1,688.7L807.1,688.9L804.1,689.1L801.1,689.3L798,689.5L795,689.8L792,690L789,690.2L786,690.4L783,690.6L780,690.9L776.9,691.1L773.9,691.3L770.9,691.5L767.9,691.8L764.9,692L761.9,692.2L758.8,692.5L755.8,692.7L752.8,692.9L749.8,693.2L746.8,693.4L743.8,693.6L740.8,693.9L737.7,694.1L734.7,694.4L731.7,694.6L728.7,694.9L725.7,695.1L722.7,695.3L719.7,695.6L716.7,695.8L713.6,696.1L710.6,696.4L707.6,696.6L704.6,696.9L701.6,697.1L698.6,697.4L695.6,697.6L692.6,697.9L689.5,698.2L686.5,698.4L683.5,698.7L680.5,699L677.5,699.3"/><polygon points="664.2,700.2 677.2,694.6 677.8,703.9"/>
<path d="M1253.8,668.2L1251.3,670L1248.8,671.7L1246.2,673.4L1243.7,675.1L1241.1,676.8L1238.6,678.4L1236,680L1233.4,681.6L1230.8,683.1L1228.1,684.7L1225.5,686.2L1222.9,687.7L1220.2,689.2L1217.6,690.6L1214.9,692L1212.2,693.4L1209.5,694.8L1206.8,696.2L1204.1,697.5L1201.3,698.8L1198.6,700.1L1195.9,701.4L1193.1,702.6L1190.3,703.9L1187.6,705.1L1184.8,706.3L1182,707.4L1179.2,708.6L1176.4,709.7L1173.6,710.8L1170.7,711.9L1167.9,713L1165.1,714L1162.2,715L1159.4,716.1L1156.5,717.1L1153.6,718L1150.7,719L1147.9,719.9L1145,720.9L1142.1,721.8L1139.2,722.6L1136.2,723.5L1133.3,724.4L1130.4,725.2L1127.5,726L1124.5,726.8L1121.6,727.6L1118.6,728.4L1115.7,729.1L1112.7,729.9L1109.8,730.6L1106.8,731.3L1103.8,732L1100.8,732.7L1097.9,733.4L1094.9,734L1091.9,734.7L1088.9,735.3L1085.9,735.9L1082.9,736.5L1079.9,737.1L1076.9,737.7L1073.9,738.2L1070.9,738.8L1067.8,739.3L1064.8,739.8L1061.8,740.3L1058.8,740.8L1055.8,741.3L1052.7,741.8L1049.7,742.2L1046.7,742.7L1043.6,743.1L1040.6,743.6L1037.6,744L1034.5,744.4L1031.5,744.8L1028.4,745.2L1025.4,745.6L1022.4,746L1019.3,746.3L1016.3,746.7L1013.2,747L1010.2,747.4L1007.2,747.7L1004.1,748L1001.1,748.3L998,748.6L995,748.9L992,749.2L988.9,749.5L985.9,749.8L982.9,750L979.8,750.3L976.8,750.5L973.8,750.8L970.8,751L967.7,751.3L964.7,751.5L961.7,751.7L958.7,752L955.7,752.2L952.7,752.4L949.7,752.6L946.7,752.8L943.7,753L940.7,753.2L937.7,753.4L934.7,753.6L931.7,753.7"/><polygon points="918.4,754.4 931.5,749.1 931.9,758.4"/>
<path d="M1266.2,668.2L1264.2,670.5L1262.1,672.8L1260,675L1257.9,677.2L1255.8,679.5L1253.7,681.7L1251.5,683.8L1249.4,686L1247.2,688.2L1245,690.3L1242.8,692.4L1240.6,694.5L1238.4,696.6L1236.1,698.6L1233.8,700.7L1231.6,702.7L1229.3,704.7L1227,706.7L1224.6,708.7L1222.3,710.6L1219.9,712.5L1217.6,714.4L1215.2,716.3L1212.8,718.2L1210.4,720L1208,721.9L1205.5,723.7L1203.1,725.4L1200.6,727.2L1198.2,728.9L1195.7,730.7L1193.2,732.4L1190.6,734L1188.1,735.7L1185.6,737.3L1183,738.9L1180.5,740.5L1177.9,742.1L1175.3,743.6L1172.7,745.1L1170.1,746.6L1167.4,748.1L1164.8,749.5L1162.1,750.9L1159.5,752.3L1156.8,753.7L1154.1,755.1L1151.4,756.4L1148.7,757.7L1145.9,759L1143.2,760.2L1140.5,761.5L1137.7,762.7L1134.9,763.9L1132.2,765.1L1129.4,766.2L1126.6,767.3L1123.8,768.4L1121,769.5L1118.2,770.6L1115.3,771.7L1112.5,772.7L1109.6,773.7L1106.8,774.7L1103.9,775.7L1101.1,776.6L1098.2,777.5L1095.3,778.5L1092.4,779.4L1089.5,780.2L1086.6,781.1L1083.7,782L1080.8,782.8L1077.9,783.6L1074.9,784.4L1072,785.2L1069.1,785.9L1066.1,786.7L1063.2,787.4L1060.2,788.1L1057.3,788.8L1054.3,789.5L1051.3,790.2L1048.4,790.8L1045.4,791.5L1042.4,792.1L1039.4,792.7L1036.4,793.3L1033.5,793.9L1030.5,794.4L1027.5,795L1024.5,795.6L1021.5,796.1L1018.5,796.6L1015.5,797.1L1012.5,797.6L1009.5,798.1L1006.5,798.6L1003.5,799L1000.5,799.5L997.5,799.9L994.5,800.3L991.5,800.8L988.5,801.2L985.4,801.6L982.4,801.9L979.4,802.3L976.4,802.7L973.4,803L970.4,803.4L967.4,803.7L964.4,804L961.3,804.3L958.3,804.6L955.3,804.9L952.3,805.2L949.3,805.5L946.2,805.7L943.2,806L940.2,806.2L937.2,806.5L934.2,806.7L931.1,806.9L928.1,807.1L925.1,807.3L922.1,807.5L919,807.7L916,807.8L913,808L909.9,808.2L906.9,808.3L903.9,808.4L900.9,808.6L897.8,808.7L894.8,808.8L891.8,808.9L888.7,809L885.7,809.1L882.7,809.2L879.6,809.3L876.6,809.3L873.6,809.4L870.5,809.4L867.5,809.5L864.5,809.5L861.5,809.6L858.4,809.6L855.4,809.6L852.4,809.6L849.3,809.6L846.3,809.6L843.3,809.6L840.2,809.6L837.2,809.6L834.2,809.6L831.1,809.5L828.1,809.5L825.1,809.4L822,809.4L819,809.3L816,809.3L812.9,809.2L809.9,809.2L806.9,809.1L803.8,809L800.8,808.9L797.8,808.8L794.7,808.7L791.7,808.6L788.7,808.5L785.6,808.4L782.6,808.3L779.6,808.2L776.5,808.1L773.5,808L770.5,807.9L767.5,807.7L764.4,807.6L761.4,807.5L758.4,807.3L755.4,807.2L752.3,807L749.3,806.9L746.3,806.7L743.3,806.6L740.2,806.4L737.2,806.2L734.2,806.1L731.2,805.9L728.2,805.7L725.1,805.6L722.1,805.4L719.1,805.2L716.1,805L713.1,804.9L710.1,804.7L707,804.5L704,804.3L701,804.1L698,803.9"/><polygon points="684.7,803.1 698.3,799.3 697.7,808.6"/>
<path d="M683.5,647.8C700.5,647.8 717.4,647.8 734.4,647.8"/><polygon points="747.7,647.8 734.4,652.5 734.4,643.1"/>
<path d="M665.7,688.7C685.7,683.8 706.8,678.5 725.6,674.1C742.2,670.2 756.9,667.1 772.5,663.5"/><polygon points="785.5,660.6 773.5,668.1 771.5,659"/>
<path d="M685.4,778.1C707.2,775.1 729.1,772.2 750.9,769.2"/><polygon points="764.1,767.4 751.5,773.8 750.3,764.6"/>
<path d="M1335,668C1358.6,678.7 1384.4,690.8 1405.8,700C1423.3,707.6 1438,713.2 1454.1,719.8"/><polygon points="1466.4,724.8 1452.3,724.1 1455.8,715.4"/>
<path d="M1574.4,765.4C1605.4,776 1636.3,786.6 1667.3,797.3"/><polygon points="1679.9,801.6 1665.8,801.7 1668.8,792.9"/>
<path d="M1800.5,841.1C1821.2,849.4 1843.2,858.1 1862.5,866C1879.5,873 1894.5,879.3 1910.5,885.9"/><polygon points="1922.8,891 1908.7,890.2 1912.3,881.6"/>
<path d="M1598.5,925.2C1689.1,920.2 1779.7,915.2 1870.3,910.2"/><polygon points="1883.6,909.5 1870.5,914.9 1870,905.6"/>
<path d="M1777.1,972.5C1820.4,956 1863.7,939.5 1906.9,923"/><polygon points="1919.4,918.2 1908.6,927.3 1905.3,918.6"/>
<path d="M2022.6,905.1C2034,905.1 2045.4,905.1 2056.9,905.1"/><polygon points="2070.2,905.1 2056.9,909.8 2056.9,900.4"/>
<path d="M674.4,960.7C702.9,959.6 718.1,958.9 760,957.4C875.9,953.1 1196.2,942.1 1414.3,934.5"/><polygon points="1427.6,934 1414.4,939.1 1414.1,929.8"/>
<path d="M674.4,972.5C689.6,973.8 704.7,975.1 719.9,976.4"/><polygon points="733.2,977.6 719.5,981.1 720.3,971.8"/>
<path d="M949.6,989.2C971.8,989.2 994,989.2 1016.3,989.2"/><polygon points="1029.6,989.2 1016.3,993.9 1016.3,984.5"/>
<path d="M1115.4,989.2C1137.8,989.2 1160.1,989.2 1182.5,989.2"/><polygon points="1195.8,989.2 1182.5,993.9 1182.5,984.5"/>
<path d="M1380.3,989.2C1395.3,989.2 1410.3,989.2 1425.3,989.2"/><polygon points="1438.6,989.2 1425.3,993.9 1425.3,984.5"/>
<path d="M1588.8,988.2C1603.6,987.8 1618.3,987.3 1633.1,986.9"/><polygon points="1646.4,986.5 1633.2,991.6 1632.9,982.2"/>
</g>
<rect x="15.3" y="5.9" width="186.3" height="25.1" fill="#ffffff" stroke="#ff0000"/>
<text x="108.5" y="21.8" text-anchor="middle" textLength="163" lengthAdjust="spacingAndGlyphs">lwgeom_furthest_line_3d</text>
<rect x="18" y="56.5" width="182" height="25.5" fill="#ffffff" stroke="#ff0000"/>
<text x="109" y="72.7" text-anchor="middle" textLength="158" lengthAdjust="spacingAndGlyphs">lwgeom_closest_line_3d</text>
<rect x="267.5" y="31" width="171.5" height="25.5" fill="#ffffff" stroke="#000000"/>
<text x="353.2" y="47.1" text-anchor="middle" textLength="147" lengthAdjust="spacingAndGlyphs">lw_dist3d_distanceline</text>
<rect x="274" y="81.5" width="159" height="26" fill="#ffffff" stroke="#ff0000"/>
<text x="353.5" y="97.9" text-anchor="middle" textLength="135" lengthAdjust="spacingAndGlyphs">lwgeom_closest_line</text>
<rect x="272" y="132.5" width="163" height="25.5" fill="#ffffff" stroke="#ff0000"/>
<text x="353.5" y="148.7" text-anchor="middle" textLength="140" lengthAdjust="spacingAndGlyphs">lwgeom_furthest_line</text>
<rect x="504.5" y="120.5" width="171" height="25.5" fill="#ffffff" stroke="#000000"/>
<text x="590" y="136.7" text-anchor="middle" textLength="147" lengthAdjust="spacingAndGlyphs">lw_dist2d_distanceline</text>
<rect x="267" y="183" width="172.5" height="25.5" fill="#ffffff" stroke="#000000"/>
<text x="353.2" y="199.2" text-anchor="middle" textLength="149" lengthAdjust="spacingAndGlyphs">lwgeom_furthest_point</text>
<rect x="269.5" y="233.5" width="167.5" height="26" fill="#ffffff" stroke="#ff0000"/>
<text x="353.2" y="249.9" text-anchor="middle" textLength="144" lengthAdjust="spacingAndGlyphs">lwgeom_closest_point</text>
<rect x="500" y="259" width="179" height="26" fill="#ffffff" stroke="#000000"/>
<text x="589.5" y="275.4" text-anchor="middle" textLength="156" lengthAdjust="spacingAndGlyphs">lw_dist2d_distancepoint</text>
<rect x="13" y="284.5" width="191" height="25.5" fill="#ffffff" stroke="#ff0000"/>
<text x="108.5" y="300.6" text-anchor="middle" textLength="167" lengthAdjust="spacingAndGlyphs">lwgeom_closest_point_3d</text>
<rect x="263.5" y="284.5" width="179.5" height="25.5" fill="#ffffff" stroke="#000000"/>
<text x="353.2" y="300.6" text-anchor="middle" textLength="156" lengthAdjust="spacingAndGlyphs">lw_dist3d_distancepoint</text>
<rect x="262.3" y="335.9" width="181.5" height="39.9" fill="#ffffff" stroke="#ff0000"/>
<text x="353.1" y="351.8" text-anchor="middle" textLength="158" lengthAdjust="spacingAndGlyphs">lwgeom_maxdistance3d</text>
<text x="353.1" y="366.7" text-anchor="middle" textLength="67" lengthAdjust="spacingAndGlyphs">_tolerance</text>
<rect x="273" y="401" width="160.5" height="40" fill="#ffffff" stroke="#ff0000"/>
<text x="353.2" y="416.9" text-anchor="middle" textLength="137" lengthAdjust="spacingAndGlyphs">rt_raster_fully_within</text>
<text x="353.2" y="431.8" text-anchor="middle" textLength="61" lengthAdjust="spacingAndGlyphs">_distance</text>
<rect x="499" y="430" width="181.5" height="40.5" fill="#ffffff" stroke="#000000"/>
<text x="589.8" y="446.2" text-anchor="middle" textLength="158" lengthAdjust="spacingAndGlyphs">lwgeom_maxdistance2d</text>
<text x="589.8" y="461.1" text-anchor="middle" textLength="67" lengthAdjust="spacingAndGlyphs">_tolerance</text>
<rect x="262" y="467" width="182" height="26" fill="#ffffff" stroke="#ff0000"/>
<text x="353" y="483.4" text-anchor="middle" textLength="158" lengthAdjust="spacingAndGlyphs">lwgeom_maxdistance2d</text>
<rect x="264" y="518" width="178" height="25.5" fill="#ffffff" stroke="#ff0000"/>
<text x="353" y="534.1" text-anchor="middle" textLength="154" lengthAdjust="spacingAndGlyphs">lwgeom_mindistance2d</text>
<rect x="264" y="569" width="178" height="40" fill="#ffffff" stroke="#ff0000"/>
<text x="353" y="584.9" text-anchor="middle" textLength="154" lengthAdjust="spacingAndGlyphs">lwgeom_mindistance3d</text>
<text x="353" y="599.9" text-anchor="middle" textLength="67" lengthAdjust="spacingAndGlyphs">_tolerance</text>
<rect x="501" y="569" width="177.5" height="40" fill="#ffffff" stroke="#ff0000"/>
<text x="589.8" y="584.9" text-anchor="middle" textLength="154" lengthAdjust="spacingAndGlyphs">lwgeom_mindistance2d</text>
<text x="589.8" y="599.9" text-anchor="middle" textLength="67" lengthAdjust="spacingAndGlyphs">_tolerance</text>
<rect x="275.5" y="635" width="155.5" height="25.5" fill="#ffffff" stroke="#000000"/>
<text x="353.2" y="651.1" text-anchor="middle" textLength="131" lengthAdjust="spacingAndGlyphs">lwt_GetEdgeByPoint</text>
<rect x="496.5" y="635" width="187" height="25.5" fill="#ffffff" stroke="#000000"/>
<text x="590" y="651.1" text-anchor="middle" textLength="163" lengthAdjust="spacingAndGlyphs">lw_dist2d_circstring_poly</text>
<rect x="5" y="648.5" width="207" height="25.5" fill="#ffffff" stroke="#000000"/>
<text x="108.5" y="664.6" text-anchor="middle" textLength="185" lengthAdjust="spacingAndGlyphs">ST_DistanceRectTreeCached</text>
<rect x="277.5" y="686" width="151.5" height="25" fill="#ffffff" stroke="#000000"/>
<text x="353.2" y="701.9" text-anchor="middle" textLength="130" lengthAdjust="spacingAndGlyphs">lwt_GetFaceByPoint</text>
<rect x="259.5" y="736.5" width="187.5" height="25.5" fill="#ffffff" stroke="#ff0000"/>
<text x="353.2" y="752.6" text-anchor="middle" textLength="163" lengthAdjust="spacingAndGlyphs">rt_raster_within_distance</text>
<rect x="29" y="764.5" width="159" height="25.5" fill="#ffffff" stroke="#000000"/>
<text x="108.5" y="780.6" text-anchor="middle" textLength="137" lengthAdjust="spacingAndGlyphs">ST_DistanceRectTree</text>
<rect x="514.5" y="686.5" width="150.5" height="40.5" fill="#ffffff" stroke="#000000"/>
<text x="589.8" y="702.7" text-anchor="middle" textLength="128" lengthAdjust="spacingAndGlyphs">lw_dist2d_circstring</text>
<text x="589.8" y="717.6" text-anchor="middle" textLength="70" lengthAdjust="spacingAndGlyphs">_curvepoly</text>
<rect x="269.5" y="787" width="167.5" height="25.5" fill="#ffffff" stroke="#ff0000"/>
<text x="353.2" y="803.1" text-anchor="middle" textLength="144" lengthAdjust="spacingAndGlyphs">union_dbscan_general</text>
<rect x="494.5" y="777.5" width="191" height="26" fill="#ffffff" stroke="#000000"/>
<text x="590" y="793.9" text-anchor="middle" textLength="167" lengthAdjust="spacingAndGlyphs">lw_dist2d_poly_curvepoly</text>
<rect x="285" y="837.5" width="136.5" height="25.5" fill="#ffffff" stroke="#000000"/>
<text x="353.2" y="853.6" text-anchor="middle" textLength="114" lengthAdjust="spacingAndGlyphs">LWGEOM_dwithin</text>
<rect x="21" y="881" width="175" height="40.5" fill="#ffffff" stroke="#000000"/>
<text x="108.5" y="897.2" text-anchor="middle" textLength="151" lengthAdjust="spacingAndGlyphs">test_rect_tree_distance</text>
<text x="108.5" y="912.1" text-anchor="middle" textLength="69" lengthAdjust="spacingAndGlyphs">_tree_case</text>
<rect x="265.5" y="888.5" width="175.5" height="25.5" fill="#ffffff" stroke="#000000"/>
<text x="353.2" y="904.6" text-anchor="middle" textLength="152" lengthAdjust="spacingAndGlyphs">rect_tree_distance_tree</text>
<rect x="505.5" y="951" width="169" height="25.5" fill="#ffffff" stroke="#000000"/>
<text x="590" y="967.1" text-anchor="middle" textLength="145" lengthAdjust="spacingAndGlyphs">measures_suite_setup</text>
<rect x="743.5" y="432.5" width="195.5" height="25.5" fill="#ffffff" stroke="#000000"/>
<text x="841.2" y="448.6" text-anchor="middle" textLength="172" lengthAdjust="spacingAndGlyphs">lw_dist2d_point_curvepoly</text>
<rect x="753" y="483" width="176.5" height="25.5" fill="#ffffff" stroke="#000000"/>
<text x="841.2" y="499.1" text-anchor="middle" textLength="153" lengthAdjust="spacingAndGlyphs">lw_dist2d_tri_curvepoly</text>
<rect x="777.5" y="533.5" width="127" height="26" fill="#ffffff" stroke="#000000"/>
<text x="841" y="549.9" text-anchor="middle" textLength="104" lengthAdjust="spacingAndGlyphs">lw_dist2d_comp</text>
<rect x="997" y="533.5" width="151" height="26" fill="#ffffff" stroke="#000000"/>
<text x="1072.5" y="549.9" text-anchor="middle" textLength="128" lengthAdjust="spacingAndGlyphs">lw_dist2d_recursive</text>
<rect x="748" y="635" width="187" height="25.5" fill="#ffffff" stroke="#000000"/>
<text x="841.5" y="651.1" text-anchor="middle" textLength="163" lengthAdjust="spacingAndGlyphs">lw_dist2d_line_curvepoly</text>
<rect x="1211" y="627.5" width="153.5" height="40.5" fill="#ffffff" stroke="#000000"/>
<text x="1287.8" y="643.7" text-anchor="middle" textLength="130" lengthAdjust="spacingAndGlyphs">lw_dist2d_distribute</text>
<text x="1287.8" y="658.6" text-anchor="middle" textLength="73" lengthAdjust="spacingAndGlyphs">_bruteforce</text>
<rect x="763.5" y="737" width="155.5" height="40" fill="#ffffff" stroke="#000000"/>
<text x="841.2" y="752.9" text-anchor="middle" textLength="132" lengthAdjust="spacingAndGlyphs">lw_dist2d_curvepoly</text>
<text x="841.2" y="767.9" text-anchor="middle" textLength="70" lengthAdjust="spacingAndGlyphs">_curvepoly</text>
<rect x="1216.5" y="859.5" width="142.5" height="40.5" fill="#ffffff" stroke="#000000"/>
<text x="1287.8" y="875.7" text-anchor="middle" textLength="119" lengthAdjust="spacingAndGlyphs">rect_tree_distance</text>
<text x="1287.8" y="890.6" text-anchor="middle" textLength="99" lengthAdjust="spacingAndGlyphs">_tree_recursive</text>
<rect x="733" y="976.5" width="216.5" height="25.5" fill="#ffffff" stroke="#000000"/>
<text x="841.2" y="992.6" text-anchor="middle" textLength="193" lengthAdjust="spacingAndGlyphs">test_rect_tree_intersects_tree</text>
<rect x="1029.5" y="976.5" width="86" height="25.5" fill="#ffffff" stroke="#000000"/>
<text x="1072.5" y="992.6" text-anchor="middle" textLength="62" lengthAdjust="spacingAndGlyphs">tree_inter</text>
<rect x="1196" y="976.5" width="184.5" height="25.5" fill="#ffffff" stroke="#000000"/>
<text x="1288.2" y="992.6" text-anchor="middle" textLength="161" lengthAdjust="spacingAndGlyphs">rect_tree_intersects_tree</text>
<rect x="1438" y="725" width="151" height="40.5" fill="#ffffff" stroke="#000000"/>
<text x="1513.5" y="741.2" text-anchor="middle" textLength="128" lengthAdjust="spacingAndGlyphs">lw_dist2d_circstring</text>
<text x="1513.5" y="756.1" text-anchor="middle" textLength="66" lengthAdjust="spacingAndGlyphs">_circstring</text>
<rect x="1661.5" y="801" width="159" height="40" fill="#ffffff" stroke="#000000"/>
<text x="1741" y="816.9" text-anchor="middle" textLength="135" lengthAdjust="spacingAndGlyphs">lw_dist2d_ptarrayarc</text>
<text x="1741" y="831.9" text-anchor="middle" textLength="73" lengthAdjust="spacingAndGlyphs">_ptarrayarc</text>
<rect x="1651" y="867" width="180" height="25.5" fill="#ffffff" stroke="#000000"/>
<text x="1741" y="883.1" text-anchor="middle" textLength="157" lengthAdjust="spacingAndGlyphs">rect_leaf_node_distance</text>
<rect x="1883.5" y="892.5" width="139" height="25.5" fill="#ffffff" stroke="#000000"/>
<text x="1953" y="908.6" text-anchor="middle" textLength="115" lengthAdjust="spacingAndGlyphs">lw_dist2d_arc_arc</text>
<rect x="2070.4" y="885.4" width="168.2" height="39.6" fill="#bfbfbf" stroke="#000000"/>
<text x="2154.5" y="901.1" text-anchor="middle" textLength="145" lengthAdjust="spacingAndGlyphs">lw_dist2d_circle_circle</text>
<text x="2154.5" y="916.1" text-anchor="middle" textLength="90" lengthAdjust="spacingAndGlyphs">_intersections</text>
<rect x="1427.5" y="918" width="171" height="25" fill="#ffffff" stroke="#000000"/>
<text x="1513" y="933.9" text-anchor="middle" textLength="147" lengthAdjust="spacingAndGlyphs">test_lw_dist2d_arc_arc</text>
<rect x="1438" y="969" width="151" height="40" fill="#ffffff" stroke="#000000"/>
<text x="1513.5" y="984.9" text-anchor="middle" textLength="128" lengthAdjust="spacingAndGlyphs">rect_tree_intersects</text>
<text x="1513.5" y="999.9" text-anchor="middle" textLength="99" lengthAdjust="spacingAndGlyphs">_tree_recursive</text>
<rect x="1646.5" y="972" width="189.5" height="26" fill="#ffffff" stroke="#000000"/>
<text x="1741.2" y="988.4" text-anchor="middle" textLength="166" lengthAdjust="spacingAndGlyphs">rect_leaf_node_intersects</text>
</svg></body></html>
